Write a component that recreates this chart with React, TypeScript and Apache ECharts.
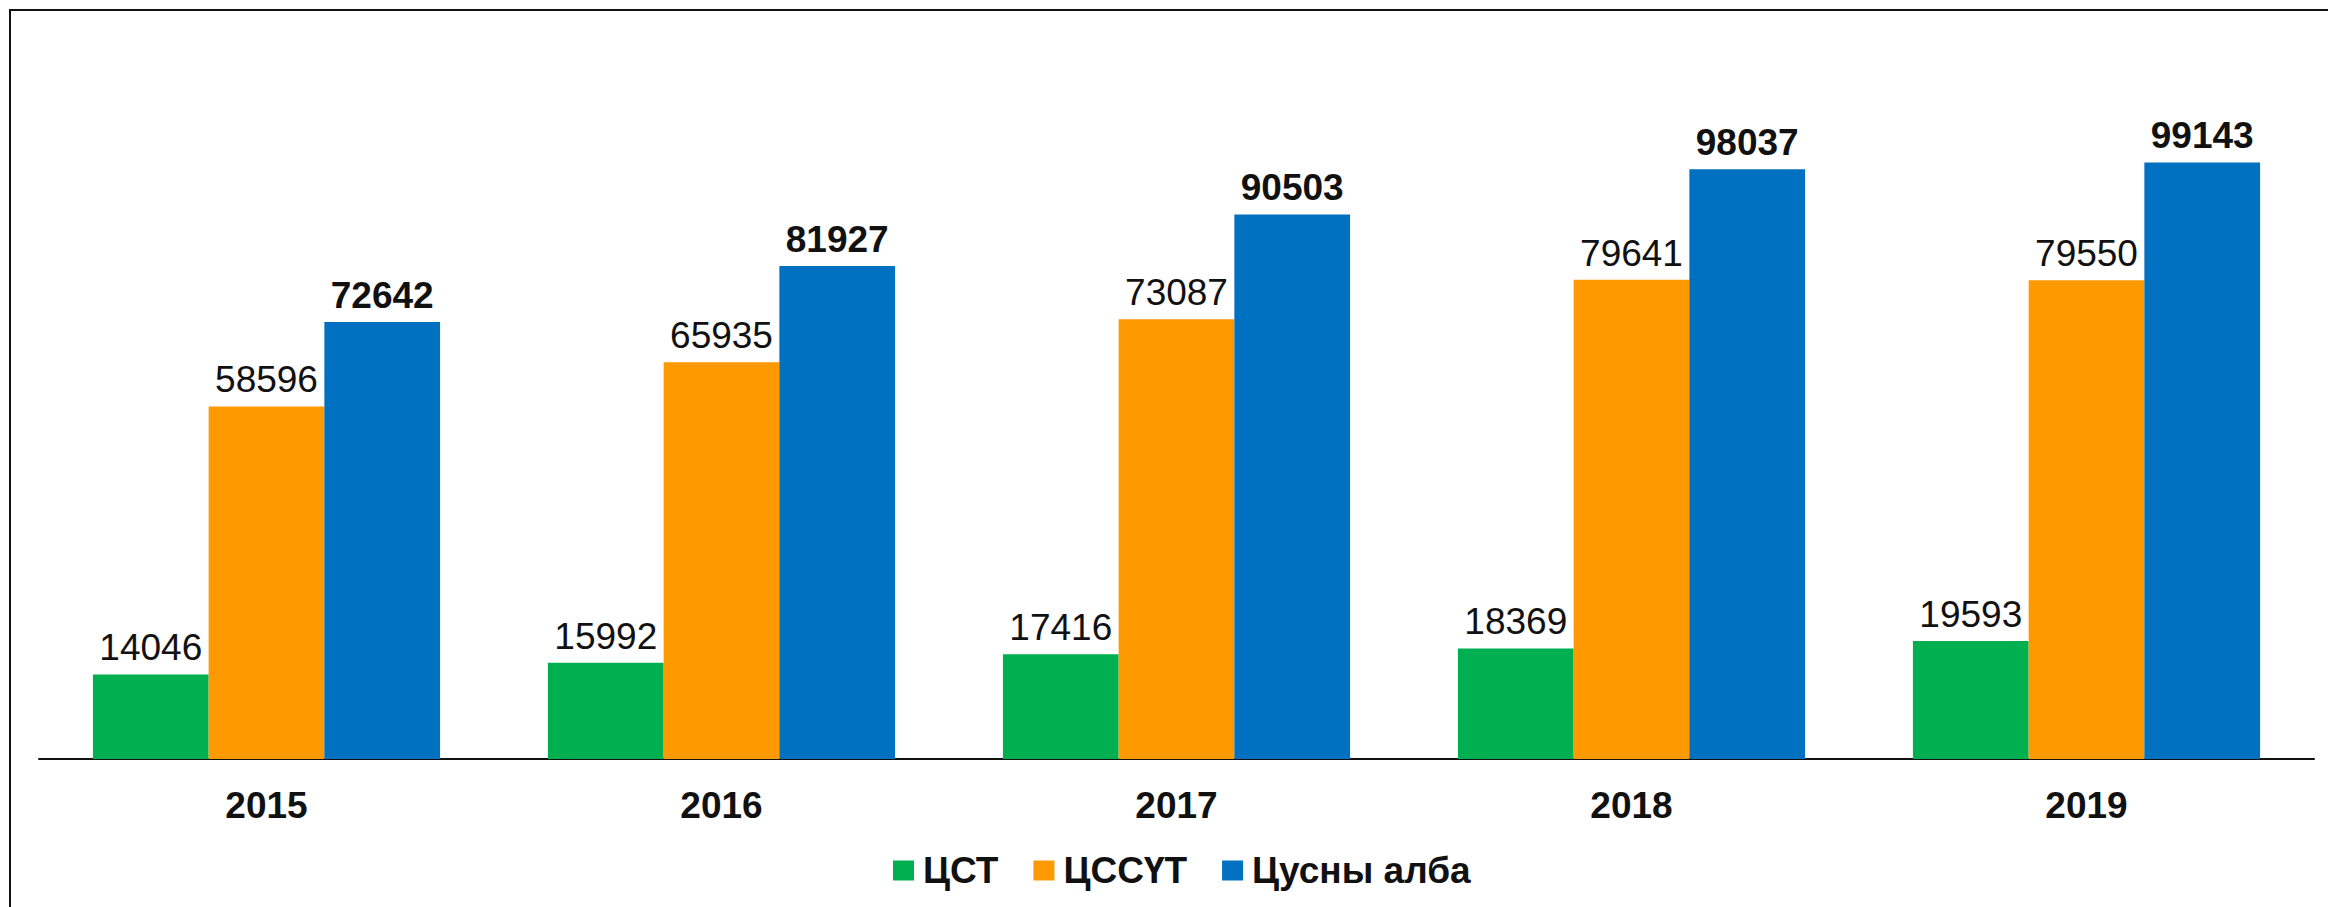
import React, { useEffect, useRef } from "react";
import * as echarts from "echarts";

const categories = ["2015", "2016", "2017", "2018", "2019"];
const seriesNames = ["ЦСТ", "ЦССҮТ", "Цусны алба"];
const cstValues = [14046, 15992, 17416, 18369, 19593];
const cssutValues = [58596, 65935, 73087, 79641, 79550];
const albaValues = [72642, 81927, 90503, 98037, 99143];
const colors = ["#00B050", "#FF9900", "#0070C0"];

export default function App() {
  const ref = useRef<HTMLDivElement>(null);
  useEffect(() => {
    if (!ref.current) return;
    const chart = echarts.init(ref.current, null, { renderer: "svg" });
    const font = "'Liberation Sans', Arial, sans-serif";
    const mkSeries = (name: string, data: number[], color: string, bold: boolean) => ({
      name,
      type: "bar",
      data,
      barGap: "0%",
      barCategoryGap: "23.7%",
      itemStyle: { color },
      label: {
        show: true,
        position: "top",
        distance: 8,
        color: "#111",
        fontFamily: font,
        fontSize: 37,
        fontWeight: bold ? "bold" : "normal",
      },
    });
    chart.setOption({
      animation: false,
      backgroundColor: "#fff",
      graphic: [
        {
          type: "rect",
          shape: { x: 10, y: 10, width: 2400, height: 1000 },
          style: { fill: "none", stroke: "#111", lineWidth: 2 },
          silent: true,
        },
      ],
      legend: {
        left: 888,
        top: 847,
        icon: "rect",
        itemWidth: 21,
        itemHeight: 20,
        itemGap: 35,
        textStyle: {
          fontFamily: font,
          fontSize: 37,
          fontWeight: "bold",
          color: "#111",
          padding: [0, 0, 0, 4],
        },
        data: seriesNames,
      },
      grid: { left: 39, right: 14, top: 37, bottom: 148, containLabel: false },
      xAxis: {
        type: "category",
        data: categories,
        axisLine: { lineStyle: { color: "#111", width: 2 } },
        axisTick: { show: false },
        axisLabel: {
          margin: 28,
          color: "#111",
          fontFamily: font,
          fontSize: 37,
          fontWeight: "bold",
        },
      },
      yAxis: {
        type: "value",
        min: 0,
        max: 120000,
        show: false,
        splitLine: { show: false },
      },
      series: [
        mkSeries(seriesNames[0], cstValues, colors[0], false),
        mkSeries(seriesNames[1], cssutValues, colors[1], false),
        mkSeries(seriesNames[2], albaValues, colors[2], true),
      ],
    });
    return () => chart.dispose();
  }, []);
  return (
    <div
      ref={ref}
      style={{ position: "absolute", left: 0, top: 0, width: 2328, height: 907 }}
    />
  );
}
